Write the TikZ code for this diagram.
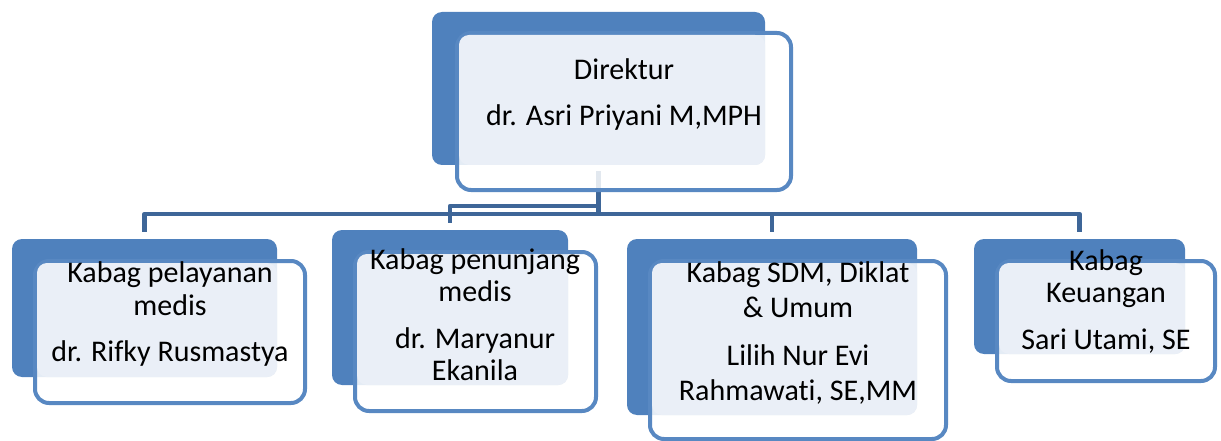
\documentclass[tikz,border=0pt]{standalone}
\usepackage{fontspec}
\setmainfont{Carlito}[Ligatures=CommonOff]
\usetikzlibrary{positioning,backgrounds}
\definecolor{orgBlue}{RGB}{79,129,189}
\definecolor{orgFrame}{RGB}{88,136,194}
\definecolor{orgPane}{RGB}{234,239,247}
\definecolor{orgLine}{RGB}{62,102,152}

\begin{document}
\begin{tikzpicture}[x=1pt, y=-1pt,
  font=\fontsize{30}{32.5}\selectfont,
  backbox/.style={fill=orgBlue, rounded corners=10pt, inner sep=0pt},
  framebox/.style={draw=orgFrame, line width=4pt, fill=white, fill opacity=0.85, rounded corners=14pt, inner sep=0pt},
  panebox/.style={fill=orgPane, rounded corners=10pt, inner sep=0pt},
  nametext/.style={align=center, inner sep=0pt, text=black},
  conn/.style={draw=orgLine, line width=4.6pt, line join=round}]
\useasboundingbox (0,0) rectangle (1221,441);

% Direktur
\node[backbox, minimum width=333pt, minimum height=153pt] (dirback) at (598.5,88.5) {};
\node[framebox, minimum width=334pt, minimum height=157pt] (dirframe) at (624,111.5) {};
\node[panebox, minimum width=306pt, minimum height=130pt] (dirpane) at (612,100) {};
\node[nametext] (dir) at (624,94.5) {Direktur\\[14pt] dr. Asri Priyani M,MPH};

% Kabag pelayanan medis
\node[backbox, minimum width=265pt, minimum height=138pt] (pelback) at (144.5,308) {};
\node[framebox, minimum width=270pt, minimum height=142pt] (pelframe) at (170,332) {};
\node[panebox, minimum width=240pt, minimum height=114pt] (pelpane) at (157,320) {};
\node[nametext] (pel) at (170,314) {Kabag pelayanan\\ medis\\[14pt] dr. Rifky Rusmastya};

% Kabag penunjang medis
\node[backbox, minimum width=236pt, minimum height=155pt] (penback) at (450,307.5) {};
\node[framebox, minimum width=241pt, minimum height=159pt] (penframe) at (475.5,331.5) {};
\node[panebox, minimum width=211pt, minimum height=131pt] (penpane) at (462.5,319.5) {};
\node[nametext] (pen) at (475,314.5) {Kabag penunjang\\ medis\\[14pt] dr. Maryanur\\ Ekanila};

% Kabag SDM
\node[backbox, minimum width=290pt, minimum height=176pt] (sdmback) at (772,327) {};
\node[framebox, minimum width=296pt, minimum height=178pt] (sdmframe) at (798,350) {};
\node[panebox, minimum width=265pt, minimum height=152pt] (sdmpane) at (784.5,339) {};
\node[nametext, font=\fontsize{30}{34.5}\selectfont] (sdm) at (798,333) {Kabag SDM, Diklat\\ \& Umum\\[14pt] Lilih Nur Evi\\ Rahmawati, SE,MM};

% Kabag Keuangan
\node[backbox, minimum width=211pt, minimum height=115pt] (keuback) at (1079.5,296.5) {};
\node[framebox, minimum width=218pt, minimum height=120pt] (keuframe) at (1106,321) {};
\node[panebox, minimum width=186pt, minimum height=91pt] (keupane) at (1092,308.5) {};
\node[nametext] (keu) at (1106,301.5) {Kabag\\ Keuangan\\[14pt] Sari Utami, SE};

% connectors
\begin{scope}[on background layer]
  \coordinate (bus) at (0,214);
  \coordinate (busup) at (0,206);
  \draw[conn, shorten <=6pt] (dirback.south) -- (dirback.south |- bus);
  \foreach \kid in {pelback, sdmback, keuback}
    \draw[conn, shorten >=6.5pt] (dirback.south |- bus) -| (\kid.north);
  \draw[conn, shorten >=7pt] (dirback.south |- busup) -| (penback.north);
\end{scope}
\end{tikzpicture}
\end{document}
